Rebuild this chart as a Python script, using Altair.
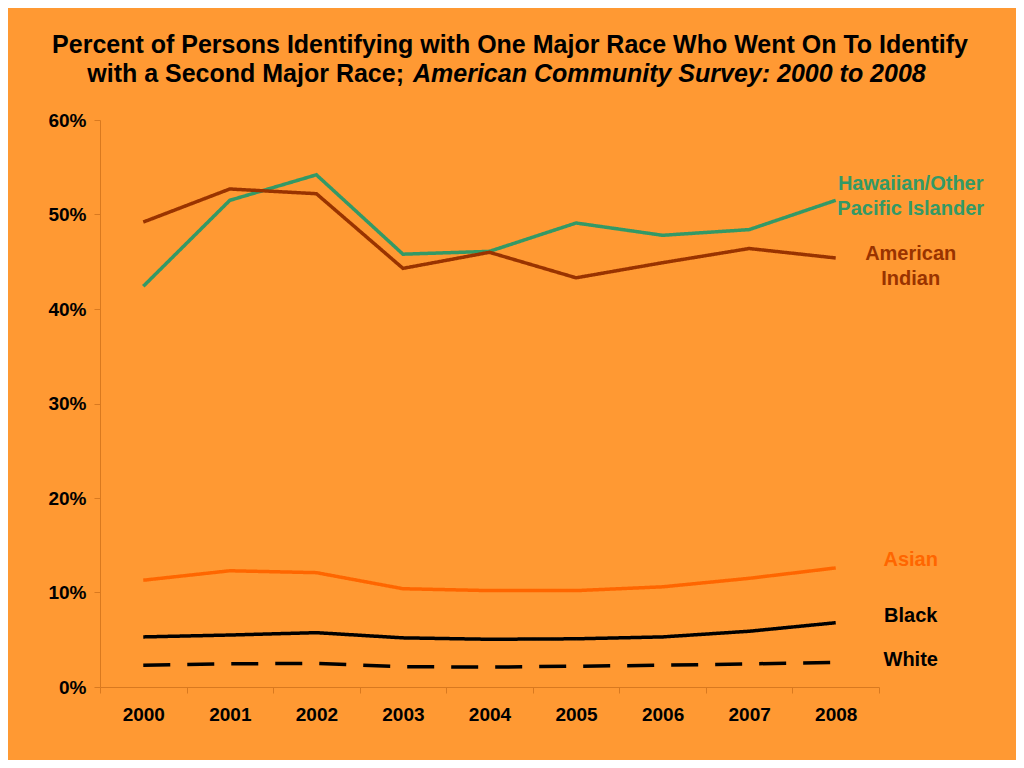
import altair as alt
import pandas as pd

years = ["2000", "2001", "2002", "2003", "2004", "2005", "2006", "2007", "2008"]
hawaiian = [42.4, 51.5, 54.2, 45.8, 46.1, 49.1, 47.8, 48.4, 51.5]
american_indian = [49.2, 52.7, 52.2, 44.3, 46.0, 43.3, 44.9, 46.4, 45.4]
asian = [11.3, 12.3, 12.1, 10.4, 10.2, 10.2, 10.6, 11.5, 12.6]
black = [5.3, 5.5, 5.75, 5.2, 5.05, 5.1, 5.3, 5.9, 6.8]
white = [2.3, 2.45, 2.5, 2.15, 2.1, 2.2, 2.3, 2.45, 2.6]

series_names = ["Hawaiian/Other Pacific Islander", "American Indian", "Asian", "Black", "White"]
series_colors = ["#339966", "#993300", "#FF6600", "#000000", "#000000"]
series_dash = ["solid", "solid", "solid", "solid", "dashed"]
label_texts = ["Hawaiian/Other\nPacific Islander", "American\nIndian", "Asian", "Black", "White"]
label_pos = [53.2, 45.8, 13.4, 7.5, 2.86]

title_line1 = "Percent of Persons Identifying with One Major Race Who Went On To Identify"
title_line2a = "with a Second Major Race;"
title_line2b = "American Community Survey: 2000 to 2008"

values = [hawaiian, american_indian, asian, black, white]
rows = []
for name, vals, dash in zip(series_names, values, series_dash):
    for y, v in zip(years, vals):
        rows.append({"year": y, "value": v / 100, "series": name, "dash": dash})
df = pd.DataFrame(rows)

labels_df = pd.DataFrame({
    "series": series_names,
    "text": label_texts,
    "value": [p / 100 for p in label_pos],
    "year": ["2008"] * 5,
})

FONT = "Liberation Sans"
xscale = alt.Scale(type="band", domain=years, paddingInner=0, paddingOuter=0)
yscale = alt.Scale(domain=[0, 0.6])
cscale = alt.Scale(domain=series_names, range=series_colors)

lines = alt.Chart(df).mark_line(strokeWidth=3.5).encode(
    x=alt.X("year:O", scale=xscale, axis=alt.Axis(
        title=None, labelAngle=0, tickBand="extent", tickSize=6, labelPadding=12,
        labelFontSize=19, labelFontWeight="bold", labelFont=FONT, labelColor="#000000")),
    y=alt.Y("value:Q", scale=yscale, axis=alt.Axis(
        title=None, values=[0, 0.1, 0.2, 0.3, 0.4, 0.5, 0.6], format=".0%",
        tickSize=6, labelPadding=8, labelFontSize=19, labelFontWeight="bold",
        labelFont=FONT, labelColor="#000000")),
    color=alt.Color("series:N", scale=cscale, legend=None),
    strokeDash=alt.StrokeDash("dash:N", scale=alt.Scale(domain=["solid", "dashed"], range=[[1, 0], [27, 17]]), legend=None),
    detail="series:N",
)

labels = alt.Chart(labels_df).mark_text(
    font=FONT, fontSize=20, fontWeight="bold", align="center", baseline="middle",
    dx=75, lineBreak="\n", lineHeight=25,
).encode(
    x=alt.X("year:O", scale=xscale),
    y=alt.Y("value:Q", scale=yscale),
    text="text:N",
    color=alt.Color("series:N", scale=cscale, legend=None),
)

tdf = pd.DataFrame({"a": [title_line1], "b": [title_line2a], "c": [title_line2b]})
t1 = alt.Chart(tdf).mark_text(font=FONT, fontSize=25, fontWeight="bold", align="center",
                              baseline="alphabetic", color="#000000").encode(
    text="a:N", x=alt.value(410), y=alt.value(-67))
t2 = alt.Chart(tdf).mark_text(font=FONT, fontSize=25, fontWeight="bold", align="right",
                              baseline="alphabetic", color="#000000").encode(
    text="b:N", x=alt.value(304), y=alt.value(-38))
t3 = alt.Chart(tdf).mark_text(font=FONT, fontSize=25, fontWeight="bold", fontStyle="italic",
                              align="left", baseline="alphabetic", color="#000000").encode(
    text="c:N", x=alt.value(313), y=alt.value(-38))

chart = alt.layer(lines, labels, t1, t2, t3).properties(
    width=779, height=567,
    autosize=alt.AutoSizeParams(type="none"),
    padding={"left": 92, "top": 112, "right": 137, "bottom": 73},
    background="#FF9933",
).configure_view(stroke=None).configure_axis(
    grid=False, domainColor="#D9791F", tickColor="#D9791F", domainWidth=1, tickWidth=1,
)

chart.save("out.html", embed_options={"renderer": "svg", "actions": False})
